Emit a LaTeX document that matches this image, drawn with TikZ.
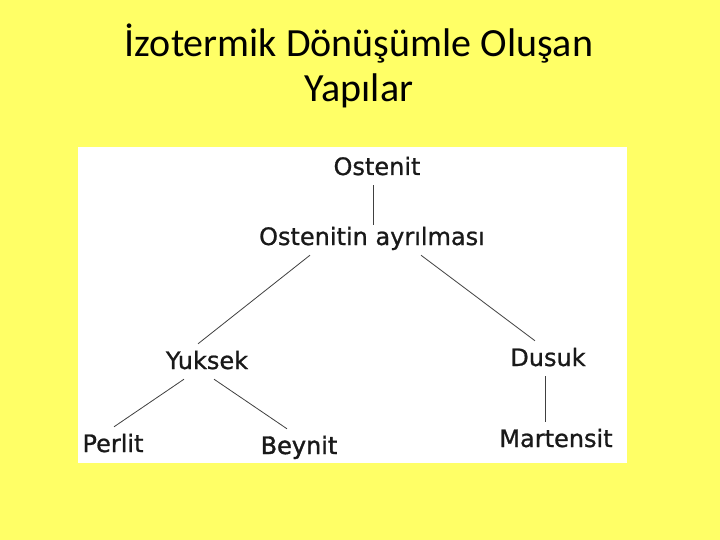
\documentclass[tikz,border=0pt]{standalone}
\usepackage{fontspec}
\setmainfont{Carlito}
\newfontfamily\diafont[FakeBold=0.9]{DejaVu Sans}
\newfontfamily\diaheavy[FakeBold=1.6]{DejaVu Sans}
\usetikzlibrary{calc}
\usetikzlibrary{positioning}
\definecolor{slideyellow}{RGB}{255,255,102}
\colorlet{mytext}{black!90}
\colorlet{myline}{black!75}

\begin{document}
\begin{tikzpicture}[x=1pt, y=-1pt,
    phase/.style={font=\diafont\fontsize{24}{28}\selectfont, text=mytext,
        anchor=base, text height=20pt, text depth=5pt, inner xsep=2pt, inner ysep=5pt},
    link/.style={draw=myline, line width=0.8pt}]

    % slide and white panel
    \useasboundingbox (0,0) rectangle (720,540);
    \fill[slideyellow] (0,0) rectangle (720,540);
    \fill[white] (78,147) rectangle (627,463);

    % title (base = last line)
    \node[font=\fontsize{40}{45}\selectfont, align=center, anchor=base] (title) at (359,102)
        {İzotermik Dönüşümle Oluşan\\Yapılar};

    % tree nodes
    \node[phase] (ost) at (377,175) {Ostenit};
    \node[phase] (ayr) at (372,245) {Ostenitin ayrılması};
    \node[phase] (yuk) at (207,369) {Yuksek};
    \node[phase] (duk) at (548,366) {Dusuk};
    \node[phase] (per) at (113,452) {Perlit};
    \node[phase, font=\diaheavy\fontsize{24}{28}\selectfont] (bey) at (299,454) {Beynit};
    \node[phase] (mar) at (556,447) {Martensit};

    % connectors
    \draw[link] (ayr.north) ++(1,5) coordinate (a1) -- (a1 |- ost.south);
    \draw[link] ([xshift=-62pt]ayr.south) -- ([xshift=-9pt]yuk.north);
    \draw[link] ([xshift=49pt]ayr.south) -- ([xshift=-13pt]duk.north);
    \draw[link] ([xshift=-23pt]yuk.south) -- ([xshift=1pt]per.north);
    \draw[link] ([xshift=7pt]yuk.south) -- ([xshift=-12pt]bey.north);
    \draw[link] ([xshift=-3pt]duk.south) coordinate (d1) -- (d1 |- mar.north);

\end{tikzpicture}
\end{document}
